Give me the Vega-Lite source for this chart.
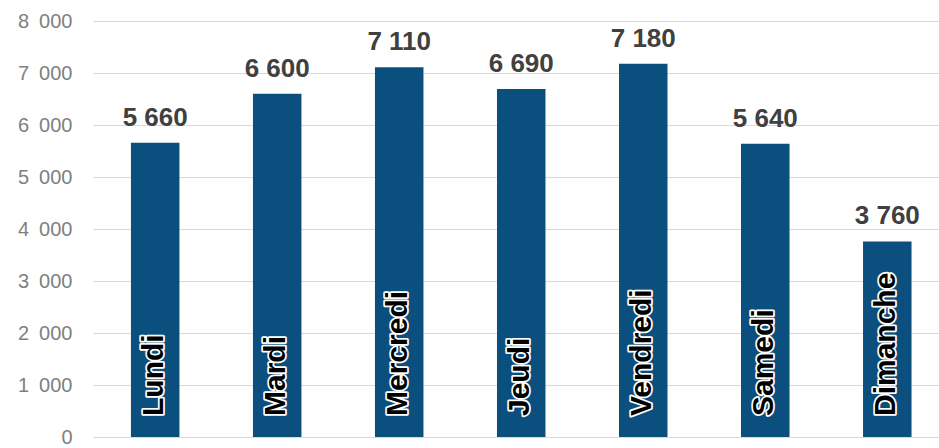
{
  "$schema": "https://vega.github.io/schema/vega-lite/v6.json",
  "width": 846,
  "height": 416,
  "autosize": {"type": "none"},
  "padding": {"left": 93, "top": 21, "right": 0, "bottom": 11},
  "background": "white",
  "config": {
    "view": {"stroke": null},
    "locale": {"number": {"decimal": ",", "thousands": " ", "grouping": [3], "currency": ["", " €"]}},
    "font": "Liberation Sans"
  },
  "data": {
    "values": [
      {"jour": "Lundi", "valeur": 5660},
      {"jour": "Mardi", "valeur": 6600},
      {"jour": "Mercredi", "valeur": 7110},
      {"jour": "Jeudi", "valeur": 6690},
      {"jour": "Vendredi", "valeur": 7180},
      {"jour": "Samedi", "valeur": 5640},
      {"jour": "Dimanche", "valeur": 3760}
    ]
  },
  "encoding": {
    "x": {
      "field": "jour",
      "type": "nominal",
      "sort": null,
      "axis": null,
      "scale": {"paddingInner": 0.6025, "paddingOuter": 0.268, "align": 0.58}
    }
  },
  "layer": [
    {
      "mark": {"type": "bar", "color": "#0b4f7f"},
      "encoding": {
        "y": {
          "field": "valeur",
          "type": "quantitative",
          "scale": {"domain": [0, 8000], "nice": false},
          "axis": {
            "values": [0, 1000, 2000, 3000, 4000, 5000, 6000, 7000, 8000],
            "title": null,
            "domain": false,
            "ticks": false,
            "labelPadding": 21,
            "labelFontSize": 20,
            "labelColor": "#808080",
            "labelFont": "Liberation Sans",
            "labelExpr": "replace(format(datum.value, ',d'), ' ', '\u2002')",
            "grid": true,
            "gridColor": "#d9d9d9",
            "gridWidth": 1
          }
        }
      }
    },
    {
      "mark": {"type": "text", "baseline": "alphabetic", "align": "center", "dy": -17, "fontSize": 26, "fontWeight": "bold", "color": "#404040", "font": "Liberation Sans"},
      "encoding": {
        "y": {"field": "valeur", "type": "quantitative"},
        "text": {"field": "valeur", "type": "quantitative", "format": ",d"}
      }
    },
    {
      "mark": {"type": "text", "angle": 270, "align": "left", "baseline": "alphabetic", "dx": 21, "dy": 8, "fontSize": 30, "fontWeight": "bold", "fill": "black", "stroke": "white", "strokeWidth": 3.5, "strokeJoin": "round", "font": "Liberation Sans"},
      "encoding": {
        "y": {"datum": 0, "type": "quantitative"},
        "text": {"field": "jour", "type": "nominal"}
      }
    },
    {
      "mark": {"type": "text", "angle": 270, "align": "left", "baseline": "alphabetic", "dx": 21, "dy": 8, "fontSize": 30, "fontWeight": "bold", "fill": "black", "font": "Liberation Sans"},
      "encoding": {
        "y": {"datum": 0, "type": "quantitative"},
        "text": {"field": "jour", "type": "nominal"}
      }
    }
  ]
}
